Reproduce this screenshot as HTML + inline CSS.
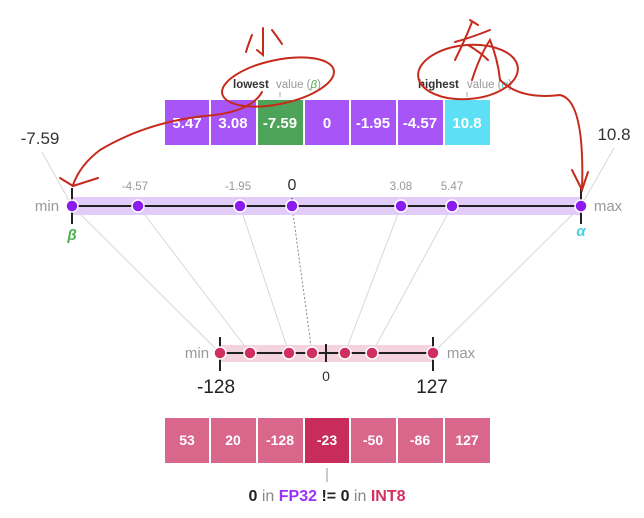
<!DOCTYPE html>
<html><head><meta charset="utf-8"><style>
html,body{margin:0;padding:0;background:#fff;}
svg{display:block;font-family:"Liberation Sans","Noto Sans CJK SC",sans-serif;}
</style></head><body>
<svg width="644" height="518" viewBox="0 0 644 518">
<text x="233" y="88" font-size="11.5" font-weight="bold" fill="#333">lowest</text>
<text x="276" y="88" font-size="11.5" fill="#999">value (<tspan fill="#4caf50" font-style="italic">β</tspan>)</text>
<line x1="280" y1="92" x2="280" y2="97" stroke="#aaa"/>
<text x="418" y="88" font-size="11.5" font-weight="bold" fill="#333">highest</text>
<text x="467" y="88" font-size="11.5" fill="#999">value (<tspan fill="#4dd0e1" font-style="italic">α</tspan>)</text>
<line x1="467" y1="92" x2="467" y2="97" stroke="#aaa"/>
<g font-size="15" fill="#fff" text-anchor="middle" font-weight="bold">
<rect x="165" y="100" width="44" height="45" fill="#a855f7"/><text x="187" y="128">5.47</text>
<rect x="211" y="100" width="45" height="45" fill="#a855f7"/><text x="233" y="128">3.08</text>
<rect x="258" y="100" width="45" height="45" fill="#4ea35a"/><text x="280" y="128">-7.59</text>
<rect x="305" y="100" width="44" height="45" fill="#a855f7"/><text x="327" y="128">0</text>
<rect x="351" y="100" width="45" height="45" fill="#a855f7"/><text x="373" y="128">-1.95</text>
<rect x="398" y="100" width="45" height="45" fill="#a855f7"/><text x="420" y="128">-4.57</text>
<rect x="445" y="100" width="45" height="45" fill="#5de0f5"/><text x="467" y="128">10.8</text>
</g>
<g stroke="#d8d8d8" stroke-width="1">
<line x1="72" y1="206" x2="220" y2="353"/>
<line x1="138" y1="206" x2="250" y2="353"/>
<line x1="240" y1="206" x2="289" y2="353"/>
<line x1="401" y1="206" x2="345" y2="353"/>
<line x1="452" y1="206" x2="372" y2="353"/>
<line x1="581" y1="206" x2="433" y2="353"/>
<line x1="72" y1="206" x2="42" y2="152"/>
<line x1="581" y1="206" x2="614" y2="148"/>
</g>
<line x1="292" y1="206" x2="312" y2="353" stroke="#888" stroke-dasharray="2,2"/>
<rect x="72" y="197" width="509" height="18" fill="#e2ccfa"/>
<line x1="72" y1="206" x2="581" y2="206" stroke="#222" stroke-width="2"/>
<g stroke="#222" stroke-width="2"><line x1="72" y1="188" x2="72" y2="224"/><line x1="581" y1="188" x2="581" y2="224"/></g>
<line x1="292" y1="198" x2="292" y2="214" stroke="#222" stroke-dasharray="2,2"/>
<g fill="#8b1cf0" stroke="#fff" stroke-width="1.5">
<circle cx="72" cy="206" r="6"/><circle cx="138" cy="206" r="6"/><circle cx="240" cy="206" r="6"/><circle cx="292" cy="206" r="6"/><circle cx="401" cy="206" r="6"/><circle cx="452" cy="206" r="6"/><circle cx="581" cy="206" r="6"/>
</g>
<g font-size="11.5" fill="#999" text-anchor="middle">
<text x="135" y="190">-4.57</text><text x="238" y="190">-1.95</text><text x="401" y="190">3.08</text><text x="452" y="190">5.47</text>
</g>
<text x="292" y="190" font-size="16" fill="#333" text-anchor="middle">0</text>
<text x="47" y="211" font-size="15" fill="#999" text-anchor="middle">min</text>
<text x="608" y="211" font-size="15" fill="#999" text-anchor="middle">max</text>
<text x="40" y="144" font-size="17" fill="#333" text-anchor="middle">-7.59</text>
<text x="614" y="140" font-size="17" fill="#333" text-anchor="middle">10.8</text>
<text x="72" y="240" font-size="15" font-weight="bold" font-style="italic" fill="#4caf50" text-anchor="middle">β</text>
<text x="581" y="236" font-size="15" font-weight="bold" font-style="italic" fill="#4dd0e1" text-anchor="middle">α</text>
<rect x="220" y="345" width="213" height="17" fill="#f4d3de"/>
<line x1="220" y1="353" x2="433" y2="353" stroke="#222" stroke-width="2"/>
<g stroke="#222" stroke-width="2"><line x1="220" y1="337" x2="220" y2="371"/><line x1="433" y1="337" x2="433" y2="371"/><line x1="326" y1="344" x2="326" y2="362"/></g>
<g fill="#d03060" stroke="#fff" stroke-width="1.5">
<circle cx="220" cy="353" r="6"/><circle cx="250" cy="353" r="6"/><circle cx="289" cy="353" r="6"/><circle cx="312" cy="353" r="6"/><circle cx="345" cy="353" r="6"/><circle cx="372" cy="353" r="6"/><circle cx="433" cy="353" r="6"/>
</g>
<text x="197" y="358" font-size="15" fill="#999" text-anchor="middle">min</text>
<text x="461" y="358" font-size="15" fill="#999" text-anchor="middle">max</text>
<text x="326" y="381" font-size="14" fill="#333" text-anchor="middle">0</text>
<text x="216" y="393" font-size="19" fill="#222" text-anchor="middle">-128</text>
<text x="432" y="393" font-size="19" fill="#222" text-anchor="middle">127</text>
<g font-size="14" fill="#fff" text-anchor="middle" font-weight="bold">
<rect x="165" y="418" width="44" height="45" fill="#d9668b"/><text x="187" y="445">53</text>
<rect x="211" y="418" width="45" height="45" fill="#d9668b"/><text x="233" y="445">20</text>
<rect x="258" y="418" width="45" height="45" fill="#d9668b"/><text x="280" y="445">-128</text>
<rect x="305" y="418" width="44" height="45" fill="#c72c5b"/><text x="327" y="445">-23</text>
<rect x="351" y="418" width="45" height="45" fill="#d9668b"/><text x="373" y="445">-50</text>
<rect x="398" y="418" width="45" height="45" fill="#d9668b"/><text x="420" y="445">-86</text>
<rect x="445" y="418" width="45" height="45" fill="#d9668b"/><text x="467" y="445">127</text>
</g>
<line x1="327" y1="468" x2="327" y2="482" stroke="#999"/>
<text x="327" y="501" font-size="16" text-anchor="middle" font-weight="bold" fill="#222">0 <tspan font-weight="normal" fill="#888">in</tspan> <tspan fill="#9b30ff">FP32</tspan> != 0 <tspan font-weight="normal" fill="#888">in</tspan> <tspan fill="#d03060">INT8</tspan></text>
<g fill="none" stroke="#c62a1c" stroke-width="2" stroke-linecap="round">
<ellipse cx="278" cy="82" rx="57" ry="22" transform="rotate(-12 278 82)"/>
<ellipse cx="468" cy="72" rx="50" ry="27" transform="rotate(-5 468 72)"/>
<path d="M263 28 L263 55 L257 50 M252 35 Q248 45 246 52 M272 30 Q278 38 282 44"/>
<path d="M455 42 Q470 38 490 30 M472 22 Q465 40 455 60 M468 45 Q480 52 488 60 M470 20 L478 25"/>
<path d="M262 92 Q252 110 215 115 Q150 120 100 150 Q80 165 73 185"/>
<path d="M60 178 L73 186 L98 178"/>
<path d="M472 80 Q480 55 490 40 Q498 60 500 80 Q520 100 560 95 Q585 100 582 190"/>
<path d="M572 170 L582 190 L588 172"/>
</g>
</svg>
</body></html>
